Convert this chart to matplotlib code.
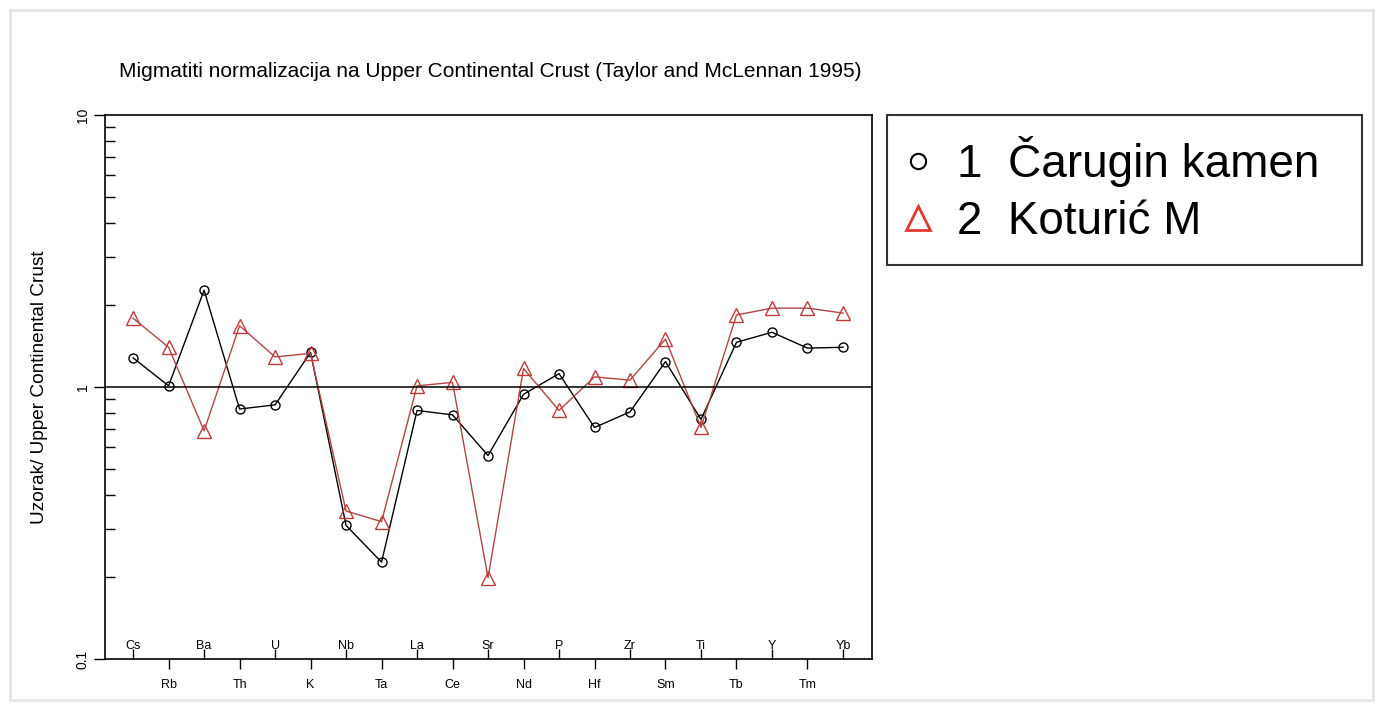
import numpy as np
import matplotlib.pyplot as plt
from matplotlib.lines import Line2D
from matplotlib.patches import Rectangle

plt.rcParams['font.family'] = ['Liberation Sans', 'DejaVu Sans']

elementi = ['Cs', 'Rb', 'Ba', 'Th', 'U', 'K', 'Nb', 'Ta', 'La', 'Ce', 'Sr',
            'Nd', 'P', 'Hf', 'Zr', 'Sm', 'Ti', 'Tb', 'Y', 'Tm', 'Yb']

# 1 Čarugin kamen
carugin = [1.28, 1.01, 2.27, 0.83, 0.86, 1.34, 0.31, 0.227, 0.82, 0.79, 0.56,
           0.94, 1.12, 0.71, 0.81, 1.24, 0.76, 1.46, 1.59, 1.39, 1.40]
# 2 Koturić M
koturic = [1.79, 1.40, 0.69, 1.68, 1.29, 1.33, 0.35, 0.32, 1.01, 1.04, 0.199,
           1.17, 0.82, 1.09, 1.06, 1.50, 0.71, 1.84, 1.95, 1.95, 1.87]

crvena = '#c23b3b'

fig = plt.figure(figsize=(13.77, 7.04), dpi=100)
ax = fig.add_axes([0.0763, 0.0639, 0.5570, 0.7727])

x = np.arange(len(elementi))
ax.plot(x, carugin, color='black', lw=1, marker='o', ms=6.5,
        mfc='none', mec='black', mew=1)
ax.plot(x, koturic, color='#b04545', lw=1, marker='^', ms=9.5,
        mfc='none', mec=crvena, mew=1)
ax.axhline(1, color='black', lw=1.1)

ax.set_yscale('log')
ax.set_ylim(0.1, 10)
ax.set_xlim(-0.79, 20.82)

# parni elementi ispod osi, neparni iznad
ax.set_xticks(x[1::2])
ax.set_xticklabels(elementi[1::2])
ax.set_xticks(x[0::2], minor=True)
ax.set_xticklabels(elementi[0::2], minor=True)
ax.tick_params(axis='x', which='major', direction='out', length=7, width=1,
               labelsize=9, pad=7.5)
ax.tick_params(axis='x', which='minor', direction='in', length=7, width=1,
               labelsize=9, pad=-14)

ax.set_yticks([0.1, 1, 10])
ax.set_yticklabels(['0.1', '1', '10'], rotation=90, va='center')
ax.tick_params(axis='y', which='major', direction='out', length=8, width=1,
               labelsize=10, pad=3)
ax.tick_params(axis='y', which='minor', direction='in', length=7, width=1,
               labelleft=False)

for s in ax.spines.values():
    s.set_linewidth(1.2)

ax.set_ylabel('Uzorak/ Upper Continental Crust', fontsize=13.7, labelpad=20)
fig.text(0.356, 0.898, 'Migmatiti normalizacija na Upper Continental Crust '
         '(Taylor and McLennan 1995)', fontsize=15, ha='center', va='center')

hand = [Line2D([], [], ls='none', marker='o', ms=11, mfc='none',
               mec='black', mew=1.5),
        Line2D([], [], ls='none', marker='^', ms=17, mfc='none',
               mec='#e03a2e', mew=2)]
leg = fig.legend(hand, ['1  Čarugin kamen', '2  Koturić M'],
                 loc='upper left', bbox_to_anchor=(0.6442, 0.5, 0.345, 0.3366),
                 mode='expand', fontsize=33, frameon=True, fancybox=False,
                 handlelength=0.45, handletextpad=0.62, labelspacing=0.3,
                 borderpad=0.45, borderaxespad=0)
leg.get_frame().set_edgecolor('black')
leg.get_frame().set_linewidth(1.5)

fig.patches.append(Rectangle((0.007, 0.006), 0.99, 0.98, transform=fig.transFigure,
                             fill=False, edgecolor='#e6e6e6', lw=2))

fig.savefig('out.png', dpi=100)
